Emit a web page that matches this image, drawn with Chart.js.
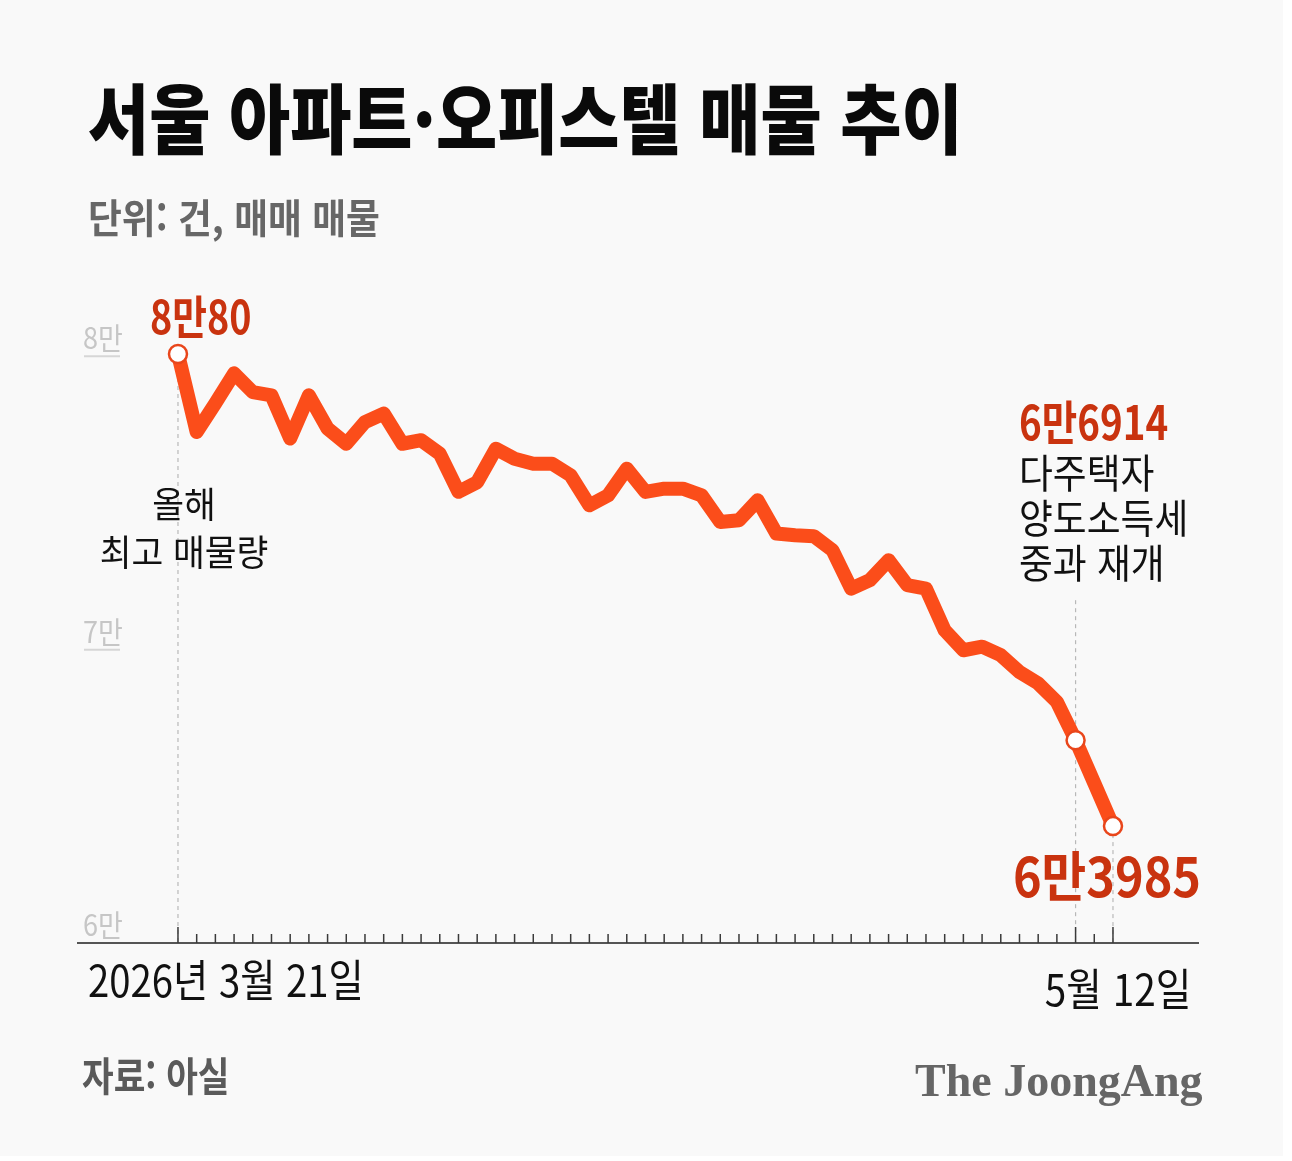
<!DOCTYPE html>
<html lang="ko">
<head>
<meta charset="utf-8">
<title>서울 아파트·오피스텔 매물 추이</title>
<script src="https://cdn.jsdelivr.net/npm/chart.js@4.4.1/dist/chart.umd.min.js"></script>
<style>
  body { margin: 0; background: #fff; }
  #wrap { position: relative; width: 1292px; height: 1161px; overflow: hidden; }
  #panel { position: absolute; left: 0; top: 0; width: 1283px; height: 1156px; background: #f9f9f9; }
  #c { position: absolute; left: 0; top: 0; }
  .t {
    position: absolute; white-space: nowrap; line-height: 1;
    font-family: "Noto Sans CJK KR", "Noto Sans", sans-serif;
    transform-origin: 0 0; color: #111;
  }
  .red { color: #c9330f; font-weight: 700; }
  #title { left: 88px; top: 77px; font-size: 76px; font-weight: 900; color: #0a0a0a; transform: scaleX(.875); }
  #unit { left: 88px; top: 196px; font-size: 40px; font-weight: 700; color: #676767; transform: scaleX(.92); }
  #source { left: 82px; top: 1054px; font-size: 40px; font-weight: 700; color: #5a5a5a; transform: scaleX(.86); }
  #logo { left: 915px; top: 1058px; font-family: "Liberation Serif", "DejaVu Serif", serif; font-size: 46px; font-weight: 700; color: #666; }
  .ylab { font-size: 30px; color: #c6c6c6; transform: scaleX(.9); }
  #peakVal { font-size: 46px; transform: scaleX(.82); }
  #peakNote { font-size: 36px; line-height: 48px; text-align: center; transform-origin: 50% 0; transform: translateX(-50%) scaleX(.96); }
  #midVal { font-size: 47px; transform: scaleX(.82); }
  #midNote { font-size: 40px; line-height: 45px; transform: scaleX(.92); }
  #endVal { font-size: 54px; transform-origin: 100% 0; transform: translateX(-100%) scaleX(.9); }
  .xlab { font-size: 44px; transform: scaleX(.87); }
  #xLast { transform-origin: 50% 0; transform: translateX(-50%) scaleX(.88); }
</style>
</head>
<body>
<div id="wrap">
  <div id="panel"></div>
  <canvas id="c" width="1292" height="1161"></canvas>
  <div class="t" id="title">서울 아파트·오피스텔 매물 추이</div>
  <div class="t" id="unit">단위: 건, 매매 매물</div>
  <div class="t red" id="peakVal"></div>
  <div class="t" id="peakNote">올해<br>최고 매물량</div>
  <div class="t red" id="midVal"></div>
  <div class="t" id="midNote">다주택자<br>양도소득세<br>중과 재개</div>
  <div class="t red" id="endVal"></div>
  <div class="t xlab" id="xFirst"></div>
  <div class="t xlab" id="xLast"></div>
  <div class="t" id="source">자료: 아실</div>
  <div class="t" id="logo">The JoongAng</div>
</div>
<script>
// 서울 아파트·오피스텔 매매 매물 (건), 2026-03-21 ~ 05-12
const listings = [
  80080, 77420, 78400, 79420, 78780, 78670, 77200, 78670, 77540, 77020,
  77760, 78050, 77020, 77140, 76680, 75380, 75710, 76850, 76510, 76340,
  76340, 75940, 74920, 75260, 76170, 75380, 75490, 75490, 75260, 74350,
  74410, 75090, 73960, 73900, 73870, 73390, 72080, 72370, 73050, 72200,
  72080, 70660, 69980, 70100, 69810, 69240, 68850, 68220, 66914, 65450,
  63985
];
const yTicks = [60000, 70000, 80000];
const yTickLabels = ['6만', '7만', '8만'];
const xEndLabels = ['2026년 3월 21일', '5월 12일'];
const highlightIdx = [0, 48, 50]; // 최고, 중과 재개, 최신

const LINE = '#fb4d1a';
const lastIdx = listings.length - 1;

function fmtMan(v) {
  return Math.floor(v / 10000) + '만' + (v % 10000);
}

// y축 라벨은 DOM 텍스트로
const wrap = document.getElementById('wrap');
const yLabEls = yTickLabels.map(function (s) {
  const d = document.createElement('div');
  d.className = 't ylab';
  d.textContent = s;
  wrap.appendChild(d);
  return d;
});
document.getElementById('peakVal').textContent = fmtMan(listings[0]);
document.getElementById('midVal').textContent = fmtMan(listings[highlightIdx[1]]);
document.getElementById('endVal').textContent = fmtMan(listings[lastIdx]);
document.getElementById('xFirst').textContent = xEndLabels[0];
document.getElementById('xLast').textContent = xEndLabels[1];

function place(id, left, top) {
  const el = typeof id === 'string' ? document.getElementById(id) : id;
  el.style.left = left + 'px';
  el.style.top = top + 'px';
}

const deco = {
  id: 'deco',
  beforeDatasetsDraw(chart) {
    const ctx = chart.ctx, x = chart.scales.x, y = chart.scales.y;
    const base = y.getPixelForValue(yTicks[0]);
    ctx.save();

    // 눈금 라벨 밑줄 (7만, 8만)
    ctx.strokeStyle = '#d6d6d6';
    ctx.lineWidth = 2;
    yTicks.slice(1).forEach(function (v) {
      const py = y.getPixelForValue(v);
      ctx.beginPath(); ctx.moveTo(84, py); ctx.lineTo(120, py); ctx.stroke();
    });

    // 점선 가이드
    ctx.setLineDash([4, 4]);
    ctx.strokeStyle = '#b8b8b8';
    ctx.lineWidth = 1.2;
    highlightIdx.forEach(function (i) {
      const px = x.getPixelForValue(i);
      let top = y.getPixelForValue(listings[i]);
      if (i === highlightIdx[1]) top -= 140;
      ctx.beginPath(); ctx.moveTo(px, top); ctx.lineTo(px, base); ctx.stroke();
    });

    // 기준선 + 일별 눈금
    ctx.setLineDash([]);
    ctx.strokeStyle = '#555';
    ctx.lineWidth = 2;
    ctx.beginPath(); ctx.moveTo(x.left, base); ctx.lineTo(x.right, base); ctx.stroke();
    ctx.strokeStyle = '#3a3a3a';
    ctx.lineWidth = 1.5;
    listings.forEach(function (v, i) {
      const px = x.getPixelForValue(i);
      const h = highlightIdx.indexOf(i) >= 0 ? 16 : 9;
      ctx.beginPath(); ctx.moveTo(px, base); ctx.lineTo(px, base - h); ctx.stroke();
    });
    ctx.restore();
  },
  afterDraw(chart) {
    const x = chart.scales.x, y = chart.scales.y;
    const base = y.getPixelForValue(yTicks[0]);
    yTicks.forEach(function (v, k) {
      place(yLabEls[k], 83, y.getPixelForValue(v) - 35);
    });
    const x0 = x.getPixelForValue(0), y0 = y.getPixelForValue(listings[0]);
    place('peakVal', x0 - 28, y0 - 63);
    place('peakNote', x0 + 6, y0 + 124);
    const m = highlightIdx[1];
    const xm = x.getPixelForValue(m), ym = y.getPixelForValue(listings[m]);
    place('midVal', xm - 57, ym - 344);
    place('midNote', xm - 57, ym - 291);
    const xe = x.getPixelForValue(lastIdx);
    place('endVal', xe + 88, base - 96);
    place('xFirst', x0 - 90, base + 13);
    place('xLast', xe + 5, base + 22);
  }
};

new Chart(document.getElementById('c'), {
  type: 'line',
  data: {
    datasets: [{
      data: listings.map(function (v, i) { return { x: i, y: v }; }),
      borderColor: LINE,
      borderWidth: 14,
      borderJoinStyle: 'round',
      borderCapStyle: 'round',
      tension: 0,
      fill: false,
      clip: false,
      pointRadius: function (c) { return highlightIdx.indexOf(c.dataIndex) >= 0 ? 9 : 0; },
      pointHoverRadius: 0,
      pointBackgroundColor: '#fff',
      pointBorderColor: '#e9461b',
      pointBorderWidth: 2.5
    }]
  },
  options: {
    responsive: false,
    animation: false,
    events: [],
    layout: { padding: { left: 77, right: 93, top: 327, bottom: 218 } },
    scales: {
      x: { type: 'linear', min: -5.4, max: 54.6, display: false },
      y: { min: 60000, max: 81000, display: false }
    },
    plugins: { legend: { display: false }, tooltip: { enabled: false } }
  },
  plugins: [deco]
});
</script>
</body>
</html>
